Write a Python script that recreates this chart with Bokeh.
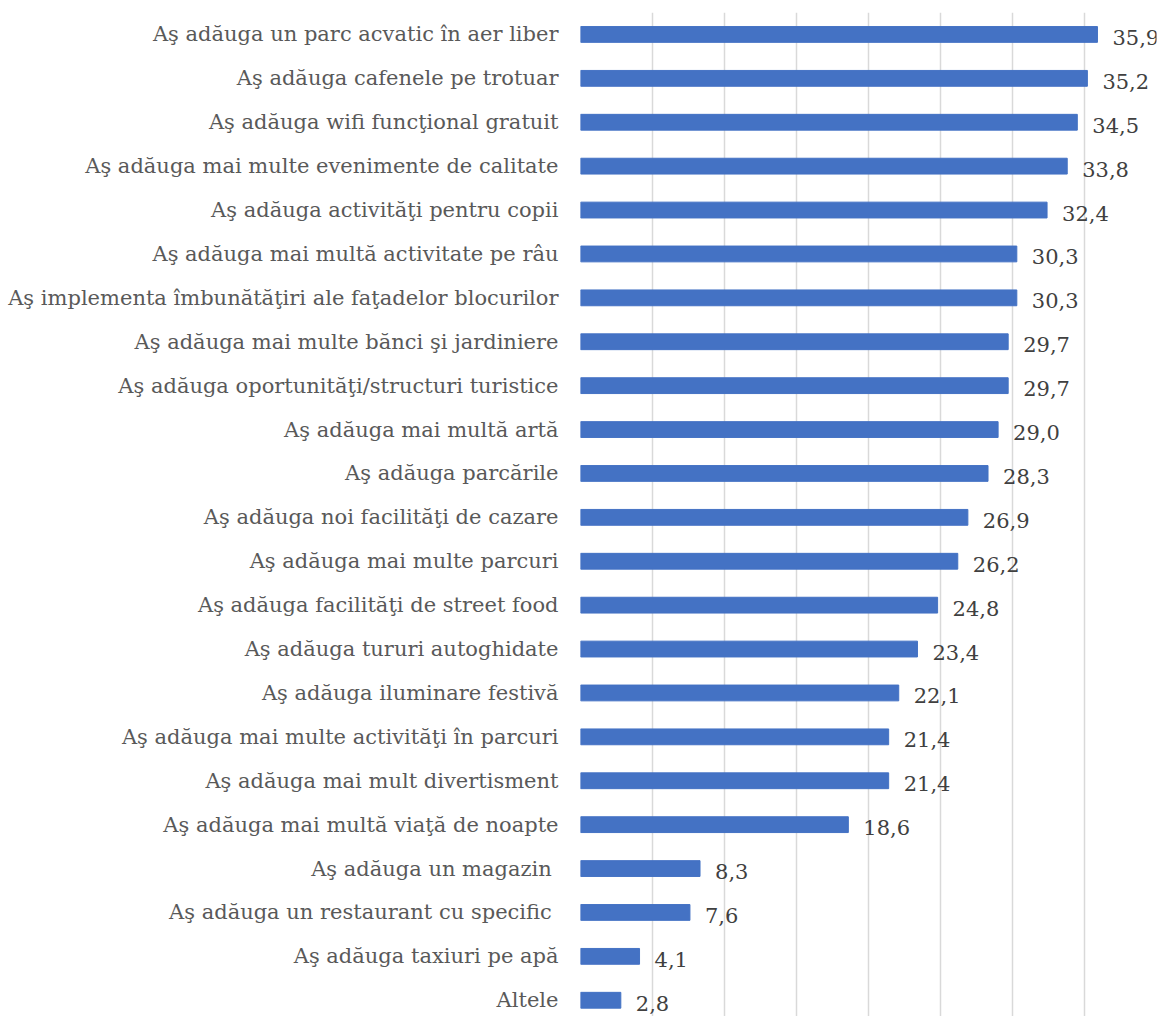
from bokeh.plotting import figure
from bokeh.models import Range1d, FixedTicker, ColumnDataSource
from bokeh.core.properties import value
from bokeh.embed import file_html
from bokeh.resources import INLINE

categories = [
    "Aş adăuga un parc acvatic în aer liber",
    "Aş adăuga cafenele pe trotuar",
    "Aş adăuga wifi funcţional gratuit",
    "Aş adăuga mai multe evenimente de calitate",
    "Aş adăuga activităţi pentru copii",
    "Aş adăuga mai multă activitate pe râu",
    "Aş implementa îmbunătăţiri ale faţadelor blocurilor",
    "Aş adăuga mai multe bănci şi jardiniere",
    "Aş adăuga oportunităţi/structuri turistice",
    "Aş adăuga mai multă artă",
    "Aş adăuga parcările",
    "Aş adăuga noi facilităţi de cazare",
    "Aş adăuga mai multe parcuri",
    "Aş adăuga facilităţi de street food",
    "Aş adăuga tururi autoghidate",
    "Aş adăuga iluminare festivă",
    "Aş adăuga mai multe activităţi în parcuri",
    "Aş adăuga mai mult divertisment",
    "Aş adăuga mai multă viaţă de noapte",
    "Aş adăuga un magazin ",
    "Aş adăuga un restaurant cu specific ",
    "Aş adăuga taxiuri pe apă",
    "Altele",
]
values = [35.9, 35.2, 34.5, 33.8, 32.4, 30.3, 30.3, 29.7, 29.7, 29.0, 28.3, 26.9,
          26.2, 24.8, 23.4, 22.1, 21.4, 21.4, 18.6, 8.3, 7.6, 4.1, 2.8]
x_ticks = [0, 5, 10, 15, 20, 25, 30, 35, 40]

FONT = "DejaVu Serif"
idx = list(range(len(categories)))
labels = [f"{v:.1f}".replace(".", ",") for v in values]
src = ColumnDataSource(dict(y=idx, v=values, lab=labels))

p = figure(width=1160, height=1016, output_backend="svg", toolbar_location=None,
           x_range=Range1d(0, 40), y_range=Range1d(start=22.37, end=-0.5),
           min_border_left=580, min_border_right=4, min_border_top=12, min_border_bottom=0)
p.outline_line_color = None
p.background_fill_color = "white"
p.border_fill_color = "white"

p.hbar(y="y", right="v", left=0, height=0.36, source=src,
       fill_color="#4472C4", line_color="#4472C4")
p.text(x="v", y="y", text="lab", source=src, x_offset=15, y_offset=3,
       text_font=value(FONT), text_font_size="21px", text_color="#404040",
       text_align="left", text_baseline="middle")

p.xaxis.visible = False
p.xaxis.ticker = FixedTicker(ticks=x_ticks)
p.xgrid.ticker = FixedTicker(ticks=x_ticks)
p.xgrid.grid_line_color = "#D9D9D9"
p.xgrid.grid_line_width = 1.5
p.ygrid.visible = False

yax = p.yaxis[0]
yax.ticker = FixedTicker(ticks=idx)
yax.major_label_overrides = {i: c for i, c in zip(idx, categories)}
yax.axis_line_color = None
yax.major_tick_line_color = None
yax.minor_tick_line_color = None
yax.major_tick_out = 0
yax.major_tick_in = 0
yax.major_label_standoff = 22
yax.major_label_text_font = FONT
yax.major_label_text_font_size = "21px"
yax.major_label_text_color = "#595959"

open("out.html", "w").write(file_html(p, INLINE))
